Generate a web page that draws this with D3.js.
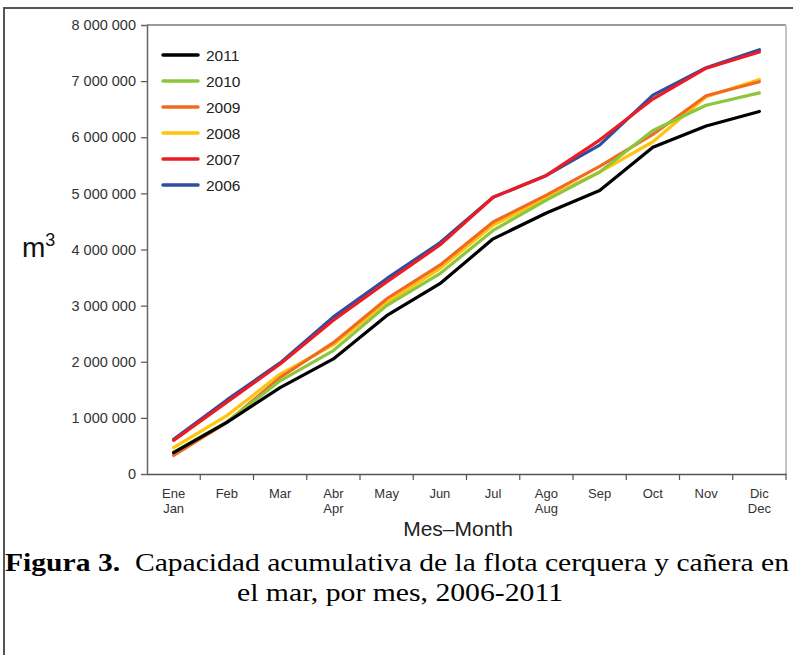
<!DOCTYPE html>
<html><head><meta charset="utf-8">
<script src="https://cdn.jsdelivr.net/npm/d3@7"></script>
<style>body{margin:0;background:#fff}svg{display:block}</style>
</head><body>
<svg id="c" width="793" height="655"></svg>
<script>
const monthsEs = ["Ene","Feb","Mar","Abr","May","Jun","Jul","Ago","Sep","Oct","Nov","Dic"];
const monthsEn = ["Jan","","","Apr","","","","Aug","","","","Dec"];
const yTicks = [0,1000000,2000000,3000000,4000000,5000000,6000000,7000000,8000000];
const years = ["2006","2007","2008","2009","2010","2011"];
const colors = {"2006":"#2f4ea0","2007":"#ec1c24","2008":"#ffc40c","2009":"#f26a22","2010":"#8cc63f","2011":"#000000"};
const v2006 = [620000,1320000,1980000,2800000,3480000,4120000,4930000,5320000,5860000,6750000,7240000,7560000];
const v2007 = [600000,1280000,1960000,2740000,3420000,4080000,4930000,5320000,5950000,6680000,7230000,7520000];
const v2008 = [470000,1040000,1780000,2300000,3050000,3660000,4430000,4920000,5380000,5920000,6720000,7030000];
const v2009 = [330000,920000,1720000,2340000,3120000,3720000,4490000,4970000,5480000,6050000,6740000,6990000];
const v2010 = [390000,930000,1660000,2200000,3000000,3570000,4340000,4880000,5380000,6120000,6570000,6790000];
const v2011 = [380000,920000,1540000,2050000,2820000,3390000,4190000,4650000,5050000,5820000,6200000,6460000];
const series = {"2006":v2006,"2007":v2007,"2008":v2008,"2009":v2009,"2010":v2010,"2011":v2011};
const legendOrder = ["2011","2010","2009","2008","2007","2006"];

const svg = d3.select("#c");
const L = 147, R = 786, T = 25, B = 474;
const x = d3.scaleBand().domain(monthsEs).range([L, R]);
const y = d3.scaleLinear().domain([0, 8000000]).range([B, T]);
const fmt = v => d3.format(",")(v).replace(/,/g, " ");

// outer frame
svg.append("path").attr("d", `M4,660 L4,8 L800,8`).attr("fill","none").attr("stroke","#555").attr("stroke-width",2);

// plot frame
svg.append("line").attr("x1",L).attr("x2",R).attr("y1",T).attr("y2",T).attr("stroke","#777").attr("stroke-width",1.5);
svg.append("line").attr("x1",R).attr("x2",R).attr("y1",T).attr("y2",B).attr("stroke","#c4c4c4").attr("stroke-width",2);

// y axis
const yAxis = svg.append("g").attr("transform",`translate(${L},0)`)
  .call(d3.axisLeft(y).tickValues(yTicks).tickFormat(fmt).tickSize(6).tickPadding(5));
yAxis.select(".domain").attr("stroke","#666").attr("stroke-width",1.5);
yAxis.selectAll(".tick line").attr("stroke","#555").attr("stroke-width",1.2)
  .attr("display", d => (d === 0 || d === 8000000) ? "none" : null);
yAxis.selectAll(".tick text").attr("font-family","Liberation Sans, Arial, sans-serif").attr("font-size",14.5).attr("fill","#333");

// x axis
const xAxis = svg.append("g").attr("transform",`translate(0,${B})`)
  .call(d3.axisBottom(x).tickSize(0).tickFormat(""));
xAxis.select(".domain").attr("stroke","#555").attr("stroke-width",1.5);
const bounds = monthsEs.slice(1).map(m => x(m)).concat([R]);
svg.append("g").selectAll("line").data(bounds).join("line")
  .attr("x1", d => d).attr("x2", d => d).attr("y1", B).attr("y2", B + 6)
  .attr("stroke","#555").attr("stroke-width",1.2);
const xl = svg.append("g").attr("font-family","Liberation Sans, Arial, sans-serif").attr("font-size",13).attr("fill","#333").attr("text-anchor","middle");
xl.selectAll("text.es").data(monthsEs).join("text").attr("class","es")
  .attr("x", d => x(d) + x.bandwidth()/2).attr("y", 498).text(d => d);
xl.selectAll("text.en").data(monthsEn.map((d,i)=>({d,i}))).join("text").attr("class","en")
  .attr("x", o => x(monthsEs[o.i]) + x.bandwidth()/2).attr("y", 513).text(o => o.d);

svg.append("text").attr("x", 458).attr("y", 536).attr("text-anchor","middle")
  .attr("font-family","Liberation Sans, Arial, sans-serif").attr("font-size",21).attr("fill","#222").text("Mes–Month");

// y label
const ml = svg.append("text").attr("x", 22).attr("y", 257).attr("font-family","Liberation Sans, Arial, sans-serif").attr("font-size",28).attr("fill","#111");
ml.append("tspan").text("m");
ml.append("tspan").attr("font-size",18).attr("dy",-11).text("3");

// lines
const line = d3.line().x((d,i) => x(monthsEs[i]) + x.bandwidth()/2).y(d => y(d));
svg.append("g").selectAll("path").data(years).join("path")
  .attr("d", yr => line(series[yr])).attr("fill","none")
  .attr("stroke", yr => colors[yr]).attr("stroke-width",3.2)
  .attr("stroke-linejoin","round").attr("stroke-linecap","round");

// legend
const lg = svg.append("g");
legendOrder.forEach((yr, i) => {
  const yy = 55 + i * 26;
  lg.append("line").attr("x1",163).attr("x2",198).attr("y1",yy).attr("y2",yy)
    .attr("stroke",colors[yr]).attr("stroke-width",3.5).attr("stroke-linecap","round");
  lg.append("text").attr("x",206).attr("y",yy+5.5).attr("font-family","Liberation Sans, Arial, sans-serif")
    .attr("font-size",15.5).attr("fill","#222").text(yr);
});

// caption
const cap1 = svg.append("text").attr("x", 5).attr("y", 571)
  .attr("textLength", 784).attr("lengthAdjust","spacingAndGlyphs")
  .attr("font-family","Liberation Serif, Times New Roman, serif").attr("font-size",26).attr("fill","#000");
cap1.append("tspan").attr("font-weight","bold").text("Figura 3.");
cap1.append("tspan").text("\u00a0 Capacidad acumulativa de la flota cerquera y cañera en");
svg.append("text").attr("x", 237).attr("y", 601)
  .attr("textLength", 326).attr("lengthAdjust","spacingAndGlyphs")
  .attr("font-family","Liberation Serif, Times New Roman, serif").attr("font-size",26).attr("fill","#000")
  .text("el mar, por mes, 2006-2011");
</script>
</body></html>
